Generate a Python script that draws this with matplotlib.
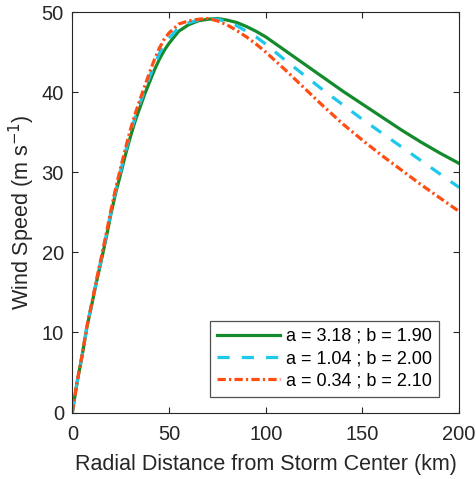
import matplotlib
matplotlib.use("Agg")
import matplotlib.pyplot as plt

plt.rcParams['font.family'] = ['Liberation Sans', 'DejaVu Sans']

# Radial distance (km)
r_km = [0, 2.5, 5, 7.5, 10, 12.5, 15, 17.5, 20, 22.5, 25, 27.5, 30, 32.5, 35, 37.5, 40, 42.5, 45, 47.5, 50,
        55, 60, 65, 70, 75, 80, 85, 90, 95, 100,
        110, 120, 130, 140, 150, 160, 170, 180, 190, 200]

# Wind speed (m/s)
v_a318 = [0, 3.8, 7.0, 10.6, 13.4, 16.3, 19.0, 21.8, 24.8, 27.5, 29.8, 32.2, 34.4, 36.4, 38.1, 39.8, 41.3, 42.8, 44.1, 45.2, 46.1,
          47.6, 48.4, 48.9, 49.1, 49.2, 49.0, 48.7, 48.2, 47.6, 46.9,
          45.2, 43.5, 41.8, 40.1, 38.5, 36.9, 35.3, 33.8, 32.4, 31.1]
v_a104 = [0, 3.85, 7.05, 10.65, 13.5, 16.45, 19.2, 22.05, 25.05, 27.8, 30.2, 32.6, 34.85, 36.9, 38.65, 40.3, 41.95, 43.5, 44.8, 45.9, 46.75,
          48.05, 48.65, 49.0, 49.15, 49.1, 48.8, 48.3, 47.6, 46.9, 46.0,
          44.0, 42.1, 40.2, 38.4, 36.6, 34.9, 33.2, 31.5, 29.8, 28.1]
v_a034 = [0, 3.9, 7.1, 10.7, 13.6, 16.6, 19.4, 22.3, 25.3, 28.1, 30.6, 33.0, 35.3, 37.3, 39.1, 40.8, 42.5, 44.1, 45.5, 46.6, 47.4,
          48.5, 48.9, 49.1, 49.2, 48.9, 48.4, 47.7, 46.9, 46.0, 45.0,
          42.8, 40.5, 38.2, 36.0, 34.0, 32.1, 30.3, 28.5, 26.8, 25.1]

labels = ["a = 3.18 ; b = 1.90", "a = 1.04 ; b = 2.00", "a = 0.34 ; b = 2.10"]

fig = plt.figure(figsize=(4.77, 4.79), dpi=100)
ax = fig.add_axes([0.1516, 0.1388, 0.811, 0.836])

ax.plot(r_km, v_a318, color="#138a2c", lw=2.3, label=labels[0])
ax.plot(r_km, v_a104, color="#1ec8ea", lw=2.3, dashes=(3.8, 3.8), label=labels[1])
ax.plot(r_km, v_a034, color="#ff4d14", lw=2.3, dashes=(2.6, 1.0, 0.7, 1.0), label=labels[2])

ax.set_xlim(0, 200)
ax.set_ylim(0, 50)
ax.set_xticks([0, 50, 100, 150, 200])
ax.set_yticks([0, 10, 20, 30, 40, 50])
ax.tick_params(direction="in", top=True, right=True, labelsize=14.5, colors="#262626", length=4)
ax.tick_params(axis="x", pad=9)
ax.tick_params(axis="y", pad=6)
for s in ax.spines.values():
    s.set_color("#262626")
    s.set_linewidth(0.8)

ax.set_xlabel("Radial Distance from Storm Center (km)", fontsize=15.5, color="#262626", labelpad=7)
ax.set_ylabel("Wind Speed (m s$^{-1}$)", fontsize=15.5, color="#262626", labelpad=3)

leg = ax.legend(loc="lower right", bbox_to_anchor=(0.9475, 0.039), borderaxespad=0,
                fontsize=13, frameon=True, fancybox=False, edgecolor="#262626",
                handlelength=3.5, labelspacing=0.3, handletextpad=0.3, borderpad=0.4)
leg.get_frame().set_linewidth(0.9)

fig.savefig("out.png", dpi=100)
